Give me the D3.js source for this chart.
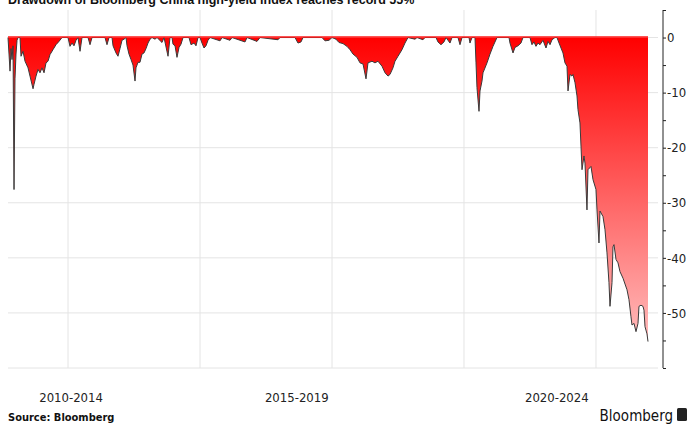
<!DOCTYPE html>
<html>
<head>
<meta charset="utf-8">
<script src="https://cdn.jsdelivr.net/npm/d3@7"></script>
<style>
  body { margin: 0; background: #fff; }
  svg { display: block; }
</style>
</head>
<body>
<svg id="chart"></svg>
<script>
// decimal years and drawdown (%)
const years = [
  2009.636, 2009.659, 2009.682, 2009.705, 2009.727, 2009.750, 2009.773, 2009.795, 2009.818, 2009.841,
  2009.864, 2009.909, 2009.932, 2009.977, 2010.023, 2010.091, 2010.136, 2010.205, 2010.227, 2010.273,
  2010.318, 2010.364, 2010.409, 2010.455, 2010.500, 2010.545, 2010.591, 2010.659, 2010.727, 2010.795,
  2010.864, 2011.000, 2011.045, 2011.091, 2011.136, 2011.182, 2011.227, 2011.273, 2011.318, 2011.455,
  2011.500, 2011.545, 2011.841, 2011.886, 2011.932, 2012.000, 2012.023, 2012.091, 2012.136, 2012.182,
  2012.227, 2012.273, 2012.318, 2012.341, 2012.386, 2012.432, 2012.477, 2012.523, 2012.545, 2012.591,
  2012.636, 2012.682, 2012.727, 2012.773, 2012.818, 2012.864, 2012.909, 2012.977, 2013.023, 2013.136,
  2013.182, 2013.273, 2013.318, 2013.364, 2013.386, 2013.432, 2013.477, 2013.523, 2013.568, 2013.614,
  2013.750, 2013.795, 2013.864, 2013.909, 2013.955, 2014.000, 2014.045, 2014.091, 2014.136, 2014.182,
  2014.227, 2014.455, 2014.500, 2014.682, 2014.727, 2015.023, 2015.068, 2015.295, 2015.364, 2015.773,
  2015.818, 2016.159, 2016.227, 2016.295, 2016.341, 2016.773, 2016.841, 2016.932, 2017.000, 2017.091,
  2017.159, 2017.250, 2017.341, 2017.409, 2017.477, 2017.568, 2017.636, 2017.705, 2017.773, 2017.818,
  2017.909, 2017.977, 2018.045, 2018.136, 2018.205, 2018.273, 2018.318, 2018.386, 2018.432, 2018.500,
  2018.591, 2018.659, 2018.727, 2018.886, 2018.932, 2019.068, 2019.114, 2019.364, 2019.409, 2019.477,
  2019.545, 2019.591, 2019.682, 2019.727, 2019.864, 2019.909, 2019.955, 2020.114, 2020.136, 2020.182,
  2020.250, 2020.273, 2020.295, 2020.341, 2020.364, 2020.409, 2020.432, 2020.523, 2020.591, 2020.659,
  2020.750, 2021.023, 2021.045, 2021.114, 2021.159, 2021.227, 2021.295, 2021.341, 2021.500, 2021.545,
  2021.591, 2021.636, 2021.682, 2021.727, 2021.795, 2021.864, 2021.909, 2021.955, 2022.000, 2022.068,
  2022.114, 2022.136, 2022.205, 2022.250, 2022.295, 2022.341, 2022.364, 2022.409, 2022.455, 2022.477,
  2022.523, 2022.568, 2022.591, 2022.636, 2022.659, 2022.682, 2022.727, 2022.750, 2022.795, 2022.818,
  2022.886, 2022.932, 2023.000, 2023.023, 2023.068, 2023.091, 2023.159, 2023.205, 2023.250, 2023.295,
  2023.318, 2023.364, 2023.386, 2023.409, 2023.455, 2023.500, 2023.545, 2023.614, 2023.705, 2023.750,
  2023.795, 2023.818, 2023.864, 2023.909, 2023.955, 2023.977, 2024.023, 2024.068, 2024.091, 2024.114,
  2024.159, 2024.182
];
const drawdown = [
  0, -3, -6.1, -2, -4, -1.5, -27.6, -7.5, -3, -0.5,
  0, 0, -3.4, -2.5, -4.3, -5.5, -7, -9.3, -8.5, -7,
  -5.8, -6.4, -5.5, -6.4, -4.6, -4.3, -3.1, -2.2, -1.3, -0.7,
  0, 0, -1.6, -1.0, -1.5, -0.5, 0, -2.5, 0, 0,
  -1.3, 0, 0, -1.3, 0, 0, -1.5, -2.8, -3.4, -2,
  -0.5, -0.3, 0, -1.5, -3, -4, -5, -7.9, -5.5, -4.5,
  -4.5, -3, -2.8, -2, -1, -0.3, 0, -0.3, 0, -0.9,
  0, -3.4, 0, 0, -1.2, -1.5, -3.6, -1.8, -1.2, 0,
  0, -1.3, -1.0, -1.5, 0, 0, -1, -1.9, -1.5, -0.5,
  0, -0.6, 0, -0.5, 0, -0.8, 0, -0.7, 0, -0.4,
  0, 0, -1.0, -0.8, 0, 0, -0.6, -0.5, 0, -0.3,
  -0.9, -1.1, -1.6, -2.2, -3.0, -3.6, -4.6, -4.8, -7.5, -4.6,
  -4.3, -4.6, -4.3, -5.2, -6.4, -7.0, -6.7, -5.5, -4.3, -3.4,
  -2.2, -1.0, 0, -0.3, 0, -0.4, 0, 0, -0.8, -1.3,
  -0.8, 0, -1.0, 0, 0, -1.3, 0, 0, -1.0, 0,
  0, -4.6, -9.1, -13.4, -9.7, -7.9, -6.4, -4.6, -3.0, -1.6,
  0, 0, -1, -2.8, -1.8, -1.5, -1, 0, 0, -1.3,
  -0.8, -1.6, -1.0, -1.3, -0.5, -1.9, -0.7, -1.3, -0.4, 0,
  0, -0.5, -1.9, -2.8, -4.6, -5.2, -9.7, -6.7, -7.0, -6.7,
  -8.2, -10.6, -13.1, -15.5, -19.7, -24, -21.5, -22.8, -31.3, -24,
  -23.4, -25.8, -27.6, -31.3, -37.3, -31.5, -32.5, -34.9, -39.1, -44.5,
  -48.8, -44.5, -38, -37.6, -40.3, -40.9, -42.5, -43.7, -45.8, -47.6,
  -50.7, -52.2, -51.9, -53.4, -51.9, -48.8, -48.6, -48.8, -49.5, -52.5,
  -53.8, -55.2
];

const gridYears = [2011, 2014, 2017, 2020, 2023];
const periodLabels = ["2010-2014", "2015-2019", "2020-2024"];
const periodPos = [2011.07, 2016.2, 2022.11];
const yTicks = [0, -10, -20, -30, -40, -50];

const width = 699;
const height = 424;
const margin = { top: 10, right: 35, bottom: 56, left: 8 };
const plotRight = 658;
const axisX = 663;

const data = years.map((y, i) => ({ year: y, value: drawdown[i] }));

const svg = d3.select("#chart").attr("width", width).attr("height", height);

const xScale = d3.scaleLinear()
  .domain([2009.636, 2024.182])
  .range([margin.left, 648]);

const yScale = d3.scaleLinear()
  .domain([-60, 5])
  .range([height - margin.bottom, margin.top]);

// title, sliced by the top edge as in the original
svg.append("text")
  .attr("x", 8)
  .attr("y", 4)
  .attr("font-family", "Liberation Sans, Arial, sans-serif")
  .attr("font-weight", "bold")
  .attr("font-size", "12.5px")
  .attr("fill", "#111")
  .text("Drawdown of Bloomberg China high-yield index reaches record 55%");

// gridlines
svg.append("g")
  .selectAll("line")
  .data(yTicks.concat([-60]))
  .join("line")
  .attr("x1", margin.left)
  .attr("x2", plotRight)
  .attr("y1", (d) => yScale(d))
  .attr("y2", (d) => yScale(d))
  .attr("stroke", "#e4e4e4")
  .attr("stroke-width", 1);

svg.append("g")
  .selectAll("line")
  .data(gridYears)
  .join("line")
  .attr("x1", (d) => xScale(d))
  .attr("x2", (d) => xScale(d))
  .attr("y1", margin.top)
  .attr("y2", yScale(-60))
  .attr("stroke", "#e4e4e4")
  .attr("stroke-width", 1);

// gradient fill
const defs = svg.append("defs");
const grad = defs.append("linearGradient")
  .attr("id", "redfade")
  .attr("gradientUnits", "userSpaceOnUse")
  .attr("x1", 0).attr("x2", 0)
  .attr("y1", yScale(0))
  .attr("y2", yScale(-60));
grad.append("stop").attr("offset", "0%").attr("stop-color", "#ff0000");
grad.append("stop").attr("offset", "100%").attr("stop-color", "#ffcccc");

const area = d3.area()
  .x((d) => xScale(d.year))
  .y0(yScale(0))
  .y1((d) => yScale(d.value));

const line = d3.line()
  .x((d) => xScale(d.year))
  .y((d) => yScale(d.value));

svg.append("path")
  .datum(data)
  .attr("fill", "url(#redfade)")
  .attr("d", area);

svg.append("path")
  .datum(data)
  .attr("fill", "none")
  .attr("stroke", "#3a3a3a")
  .attr("stroke-width", 1)
  .attr("stroke-linejoin", "round")
  .attr("d", line);

// red band along zero
svg.append("line")
  .attr("x1", xScale(years[0]))
  .attr("x2", xScale(years[years.length - 1]))
  .attr("y1", yScale(0) - 0.5)
  .attr("y2", yScale(0) - 0.5)
  .attr("stroke", "#ff1a1a")
  .attr("stroke-width", 1.5);

// y axis on the right
const yAxis = d3.axisRight(yScale)
  .tickValues(d3.range(-60, 6, 5))
  .tickSize(3)
  .tickFormat((d) => (yTicks.includes(d) ? d : ""));

const gy = svg.append("g")
  .attr("transform", `translate(${axisX},0)`)
  .call(yAxis);
gy.select(".domain").attr("stroke", "#222").attr("d", `M0,${yScale(5)}V${yScale(-60)}`);
gy.selectAll(".tick line").attr("stroke", "#222");
gy.selectAll(".tick text")
  .attr("x", 4)
  .attr("font-family", "DejaVu Sans Condensed, DejaVu Sans, sans-serif")
  .attr("font-size", "13px")
  .attr("fill", "#222");

// period labels
svg.append("g")
  .selectAll("text")
  .data(periodLabels)
  .join("text")
  .attr("x", (d, i) => xScale(periodPos[i]))
  .attr("y", 402)
  .attr("text-anchor", "middle")
  .attr("font-family", "DejaVu Sans Condensed, DejaVu Sans, sans-serif")
  .attr("font-size", "13px")
  .attr("fill", "#222")
  .text((d) => d);

// footer
svg.append("text")
  .attr("x", 8)
  .attr("y", 421)
  .attr("font-family", "DejaVu Sans Condensed, DejaVu Sans, sans-serif")
  .attr("font-weight", "bold")
  .attr("font-size", "11px")
  .attr("fill", "#111")
  .text("Source: Bloomberg");

svg.append("text")
  .attr("x", 673)
  .attr("y", 421)
  .attr("text-anchor", "end")
  .attr("font-family", "DejaVu Sans Condensed, DejaVu Sans, sans-serif")
  .attr("font-size", "15px")
  .attr("fill", "#111")
  .text("Bloomberg");

svg.append("rect")
  .attr("x", 677)
  .attr("y", 408)
  .attr("width", 10)
  .attr("height", 13)
  .attr("rx", 1.5)
  .attr("fill", "#222");
</script>
</body>
</html>
